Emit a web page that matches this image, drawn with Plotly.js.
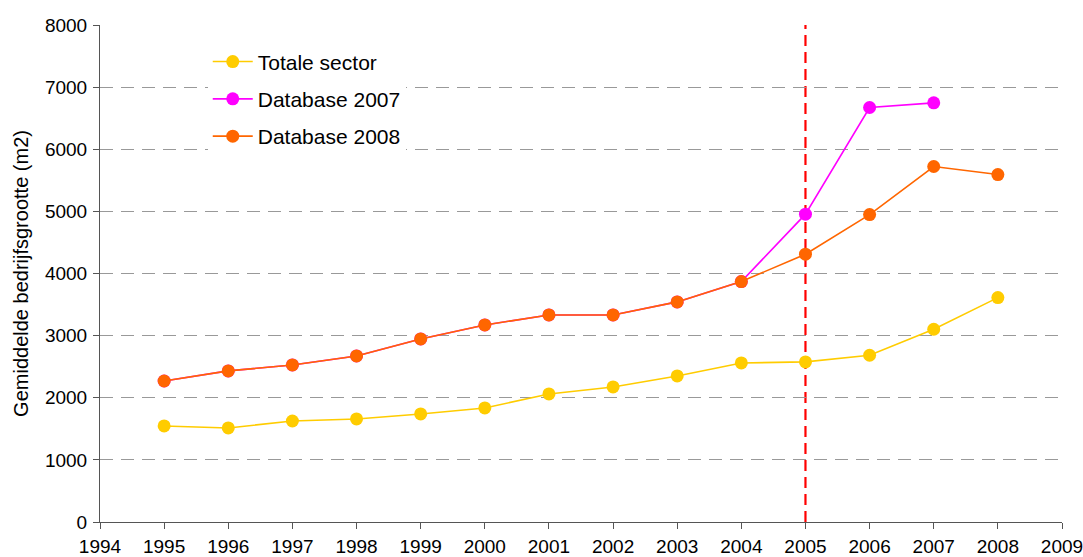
<!DOCTYPE html>
<html>
<head>
<meta charset="utf-8">
<script src="https://cdn.plot.ly/plotly-3.0.1.min.js"></script>
<style>html,body{margin:0;padding:0;background:#fff;}#chart{width:1083px;height:557px;}</style>
</head>
<body>
<div id="chart"></div>
<script>
const years = [1995, 1996, 1997, 1998, 1999, 2000, 2001, 2002, 2003, 2004, 2005, 2006, 2007, 2008];
const totaleSector = [1546, 1514, 1626, 1659, 1739, 1836, 2061, 2174, 2351, 2560, 2577, 2684, 3103, 3612];
const years2007 = [1995, 1996, 1997, 1998, 1999, 2000, 2001, 2002, 2003, 2004, 2005, 2006, 2007];
const database2007 = [2270, 2432, 2528, 2673, 2947, 3172, 3333, 3333, 3543, 3870, 4955, 6672, 6747];
const database2008 = [2270, 2432, 2528, 2673, 2947, 3172, 3333, 3333, 3543, 3870, 4311, 4948, 5722, 5593];
const xTicks = [1994, 1995, 1996, 1997, 1998, 1999, 2000, 2001, 2002, 2003, 2004, 2005, 2006, 2007, 2008, 2009];
const refYear = 2005;

const mk = (name, x, y, color, grp) => ({
  type: 'scatter', mode: 'lines+markers', name: name, x: x, y: y,
  legendgroup: grp,
  line: {color: color, width: 1.6},
  marker: {color: color, size: 13}
});

const data = [
  mk('Totale sector', years, totaleSector, '#FFCC00', 'a'),
  mk('Database 2007', years2007, database2007, '#FF00FF', 'b'),
  mk('Database 2008', years, database2008, '#FF6600', 'c')
];

const layout = {
  width: 1083, height: 557,
  margin: {l: 100, r: 21, t: 25, b: 35},
  paper_bgcolor: '#fff', plot_bgcolor: '#fff',
  font: {family: 'Liberation Sans, Arial, sans-serif', color: '#000', size: 19},
  showlegend: true,
  legend: {
    x: 0.112, y: 0.967, xanchor: 'left', yanchor: 'top',
    bgcolor: '#fff', font: {size: 21}, traceorder: 'grouped', tracegroupgap: 7,
    itemwidth: 40
  },
  xaxis: {
    range: [1994, 2009], tickvals: xTicks, ticktext: xTicks.map(String),
    showgrid: false, zeroline: false, showline: true, linecolor: '#555', linewidth: 1,
    ticks: 'outside', ticklen: 6, tickcolor: '#555', tickfont: {size: 19},
    ticklabelstandoff: 1, ticklabeloverflow: 'allow'
  },
  yaxis: {
    range: [0, 8000], dtick: 1000, tickformat: 'd',
    showgrid: true, gridcolor: '#999', griddash: '13px,8px', gridwidth: 1,
    zeroline: false, showline: true, linecolor: '#555', linewidth: 1,
    ticks: 'outside', ticklen: 6, tickcolor: '#555', tickfont: {size: 19},
    ticklabelstandoff: 2,
    title: {text: 'Gemiddelde bedrijfsgrootte (m2)', font: {size: 20}, standoff: 10}
  },
  shapes: [{
    type: 'line', xref: 'x', yref: 'y', x0: refYear, x1: refYear, y0: 0, y1: 8000,
    line: {color: '#FF0000', width: 2.2, dash: '11px,6px'}, layer: 'below'
  }]
};

Plotly.newPlot('chart', data, layout, {displayModeBar: false, staticPlot: true});
</script>
</body>
</html>
